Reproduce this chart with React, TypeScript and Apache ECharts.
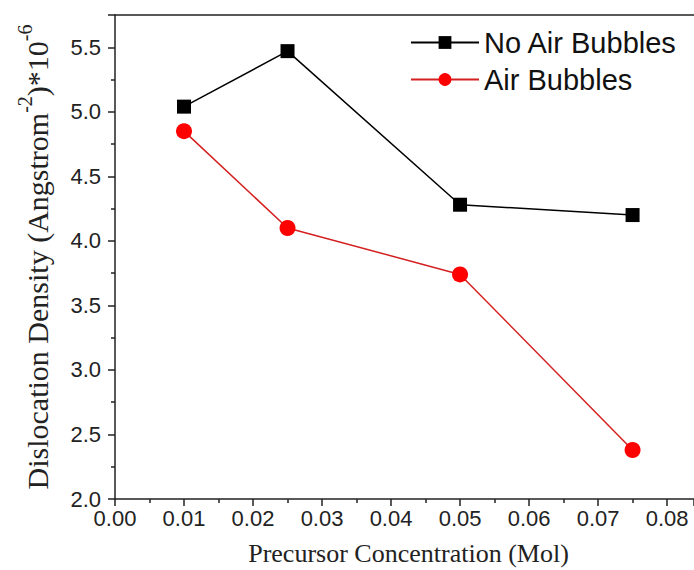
import React, { useEffect, useRef } from "react";
import * as echarts from "echarts";

const concentrations = [0.01, 0.025, 0.05, 0.075];
const noAirBubbles = [5.04, 5.47, 4.28, 4.2];
const airBubbles = [4.85, 4.1, 3.74, 2.38];
const seriesNames = ["No Air Bubbles", "Air Bubbles"];

export default function App() {
  const ref = useRef<HTMLDivElement>(null);
  useEffect(() => {
    if (!ref.current) return;
    const chart = echarts.init(ref.current, null, { renderer: "svg" });
    const axisLabelStyle = { fontFamily: "Liberation Sans, Arial, sans-serif", fontSize: 22, color: "#222" };
    const serif = "Liberation Serif, Times New Roman, serif";
    chart.setOption({
      animation: false,
      backgroundColor: "#fff",
      grid: { left: 115, right: 0, top: 15, bottom: 71, outerBoundsMode: "none", containLabel: false },
      legend: {
        top: 23,
        left: 405,
        orient: "vertical",
        itemWidth: 68,
        itemHeight: 16,
        itemGap: 8,
        textStyle: { fontFamily: "Liberation Sans, Arial, sans-serif", fontSize: 29, color: "#111" },
        data: seriesNames,
      },
      xAxis: [
        {
          type: "value",
          min: 0,
          max: 0.0839,
          interval: 0.01,
          name: "Precursor Concentration (Mol)",
          nameLocation: "middle",
          nameGap: 41,
          nameTextStyle: { fontFamily: serif, fontSize: 26, color: "#222", padding: [0, 0, 0, 8] },
          axisLine: { lineStyle: { color: "#222", width: 1.5 } },
          axisTick: { inside: false, length: 7, lineStyle: { color: "#222", width: 1.5 } },
          minorTick: { show: true, splitNumber: 2, length: 4, lineStyle: { color: "#222", width: 1.5 } },
          axisLabel: { ...axisLabelStyle, margin: 8, formatter: (v: number) => v.toFixed(2), showMaxLabel: false },
          splitLine: { show: false },
        },
        {
          type: "value",
          position: "top",
          min: 0,
          max: 0.0839,
          axisLine: { show: true, onZero: false, lineStyle: { color: "#222", width: 1.5 } },
          axisTick: { show: false },
          axisLabel: { show: false },
          splitLine: { show: false },
        },
      ],
      yAxis: {
        type: "value",
        min: 2.0,
        max: 5.75,
        interval: 0.5,
        name: "{n|Dislocation Density (Angstrom}{s|-2}{n|)*10}{s|-6}",
        nameLocation: "middle",
        nameGap: 63,
        nameRotate: 90,
        nameTextStyle: {
          rich: {
            n: { fontFamily: serif, fontSize: 30, color: "#222", lineHeight: 37, verticalAlign: "bottom" },
            s: { fontFamily: serif, fontSize: 20, color: "#222", lineHeight: 37, verticalAlign: "top" },
          },
        },
        axisLine: { show: true, lineStyle: { color: "#222", width: 1.5 } },
        axisTick: { inside: false, length: 7, lineStyle: { color: "#222", width: 1.5 } },
        minorTick: { show: true, splitNumber: 2, length: 4, lineStyle: { color: "#222", width: 1.5 } },
        axisLabel: { ...axisLabelStyle, margin: 14, formatter: (v: number) => (v > 5.6 ? "" : v.toFixed(1)) },
        splitLine: { show: false },
      },
      series: [
        {
          name: seriesNames[0],
          type: "line",
          data: concentrations.map((c, i) => [c, noAirBubbles[i]]),
          symbol: "rect",
          symbolSize: 14,
          lineStyle: { color: "#000", width: 1.5 },
          itemStyle: { color: "#000" },
        },
        {
          name: seriesNames[1],
          type: "line",
          data: concentrations.map((c, i) => [c, airBubbles[i]]),
          symbol: "circle",
          symbolSize: 16,
          lineStyle: { color: "#d42020", width: 1.5 },
          itemStyle: { color: "#ff0000" },
        },
      ],
    });
    return () => chart.dispose();
  }, []);
  return <div ref={ref} style={{ width: 694, height: 570, position: "absolute", left: 0, top: 0 }} />;
}
